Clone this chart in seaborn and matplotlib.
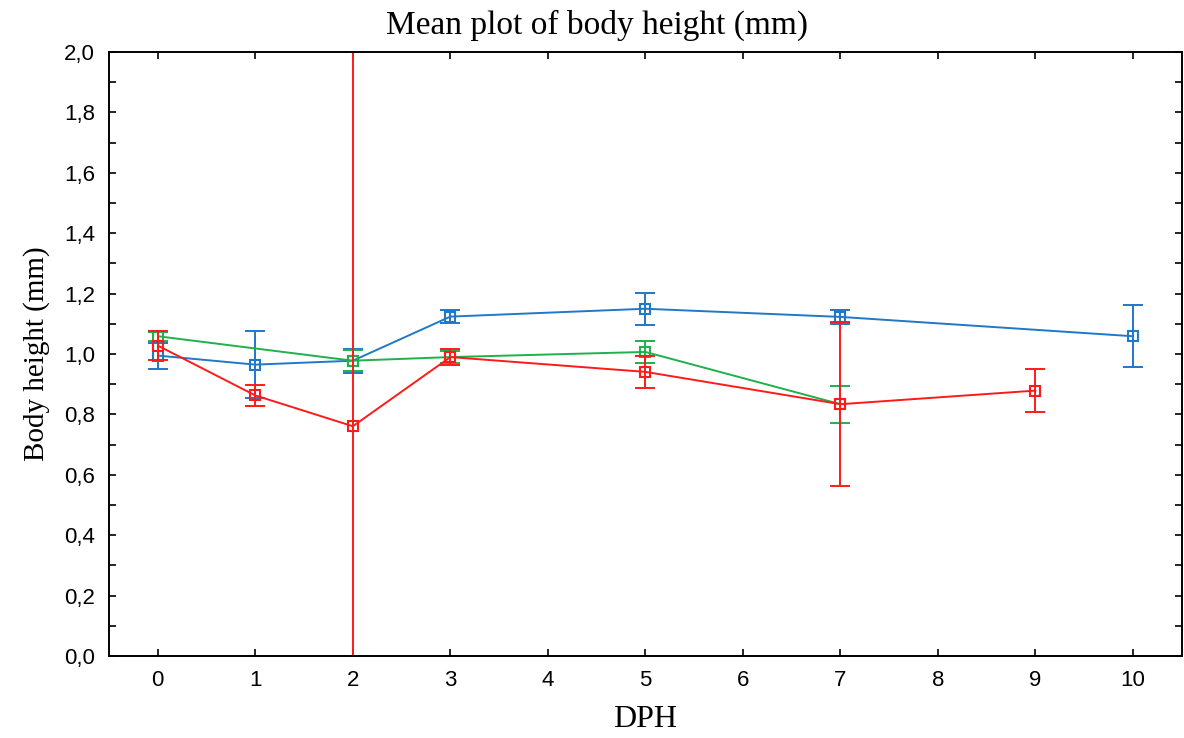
import matplotlib
matplotlib.use("Agg")
import matplotlib.pyplot as plt
import seaborn as sns
import pandas as pd
from matplotlib.ticker import MultipleLocator, FuncFormatter

sns.set_style("ticks")
plt.rcParams["text.color"] = "black"
plt.rcParams["axes.labelcolor"] = "black"

# -----------------------------
# DATA
# -----------------------------
blue_dph = [0, 1, 2, 3, 5, 7, 10]
blue_mean = [0.995, 0.965, 0.978, 1.124, 1.150, 1.123, 1.059]
blue_err = [0.043, 0.111, 0.040, 0.022, 0.053, 0.022, 0.102]

green_dph = [0, 2, 3, 5, 7]
green_mean = [1.059, 0.978, 0.990, 1.007, 0.834]
green_err = [0.015, 0.035, 0.020, 0.035, 0.061]

red_dph = [0, 1, 2, 3, 5, 7, 9]
red_mean = [1.028, 0.863, 0.761, 0.990, 0.941, 0.834, 0.879]
red_err = [0.048, 0.034, 1.600, 0.027, 0.053, 0.271, 0.070]

groups = ["blue", "green", "red"]
colors = {"blue": "#1f78c8", "green": "#20b04c", "red": "#ff1a1a"}

df = pd.concat([
    pd.DataFrame({"DPH": blue_dph, "mean": blue_mean, "err": blue_err, "group": "blue"}),
    pd.DataFrame({"DPH": green_dph, "mean": green_mean, "err": green_err, "group": "green"}),
    pd.DataFrame({"DPH": red_dph, "mean": red_mean, "err": red_err, "group": "red"}),
], ignore_index=True)

# -----------------------------
# FIGURE
# -----------------------------
fig = plt.figure(figsize=(11.84, 7.38), dpi=100)
ax = fig.add_axes([0.0921, 0.111, 0.906, 0.8185])

for g in groups:
    sub = df[df["group"] == g]
    sns.lineplot(data=sub, x="DPH", y="mean", color=colors[g], lw=1.4,
                 marker="s", markersize=7.5, markerfacecolor="none",
                 markeredgecolor=colors[g], markeredgewidth=1.5,
                 ax=ax, legend=False)
    ax.errorbar(sub["DPH"], sub["mean"], yerr=sub["err"], fmt="none",
                ecolor=colors[g], elinewidth=1.4, capsize=7, capthick=1.4)

ax.set_xlim(-0.5, 10.5)
ax.set_ylim(0, 2.0)
ax.xaxis.set_major_locator(MultipleLocator(1))
ax.yaxis.set_major_locator(MultipleLocator(0.2))
ax.yaxis.set_minor_locator(MultipleLocator(0.1))
ax.yaxis.set_major_formatter(FuncFormatter(lambda v, p: f"{v:.1f}".replace(".", ",")))

ax.tick_params(which="both", direction="in", top=True, right=True,
               length=5, width=1.2, labelsize=16, colors="black")
ax.tick_params(axis="x", pad=10)
ax.tick_params(axis="y", pad=10)
for s in ax.spines.values():
    s.set_linewidth(1.4)
    s.set_color("black")
    s.set_visible(True)

for lab in ax.get_xticklabels() + ax.get_yticklabels():
    lab.set_family("Liberation Sans")

fig.text(0.504, 1 - 25 / 738, "Mean plot of body height (mm)",
         family="Liberation Serif", fontsize=24, ha="center", va="center")
ax.set_xlabel("DPH", labelpad=10, family="Liberation Serif", fontsize=23)
ax.set_ylabel("Body height (mm)", labelpad=10, family="Liberation Serif", fontsize=21)

fig.savefig("out.png", dpi=100)
